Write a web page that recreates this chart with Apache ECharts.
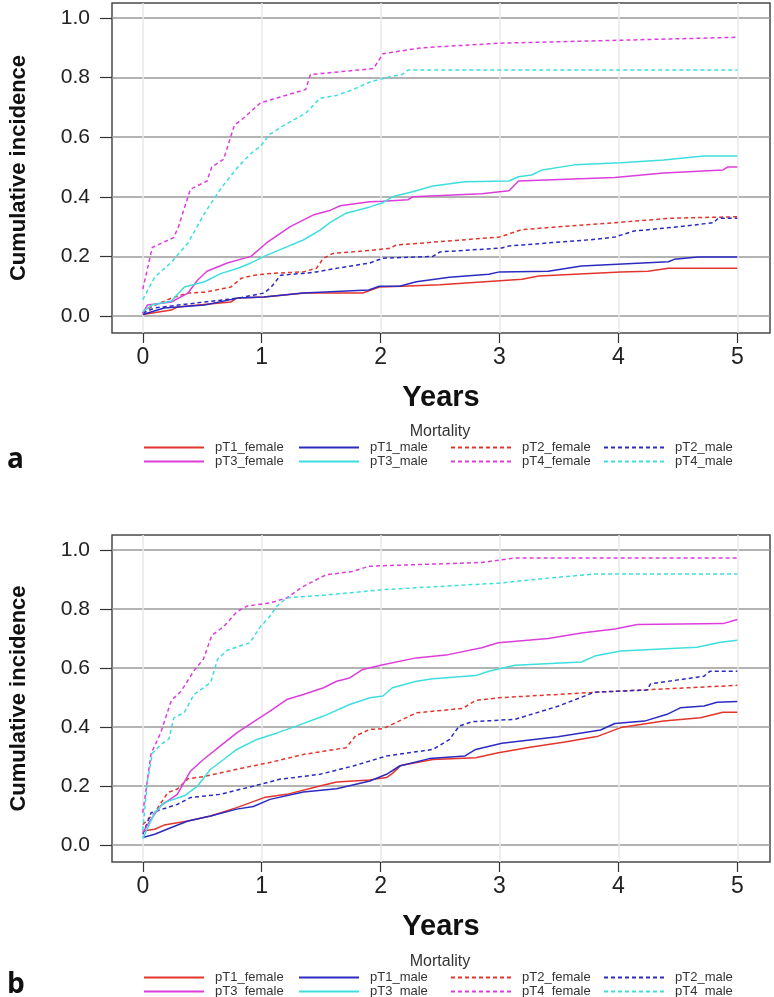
<!DOCTYPE html>
<html>
<head>
<meta charset="utf-8">
<script src="https://cdn.jsdelivr.net/npm/echarts@6/dist/echarts.min.js"></script>
<style>
  html, body { margin: 0; padding: 0; background: #fff; }
  #chart { width: 774px; height: 997px; }
</style>
</head>
<body>
<div id="chart"></div>
<script>
// tick values
const xTicks = [0, 1, 2, 3, 4, 5];
const yTicks = [0, 0.2, 0.4, 0.6, 0.8, 1.0];
const seriesNames = ["pT1_female", "pT1_male", "pT2_female", "pT2_male",
                     "pT3_female", "pT3_male", "pT4_female", "pT4_male"];

// panel a  [years, cumulative incidence]
const aPT1F = [[0,0.005],[0.24,0.02],[0.29,0.03],[0.74,0.047],[0.79,0.06],[1.02,0.064],[1.36,0.077],[1.85,0.077],[1.99,0.097],[2.18,0.1],[2.5,0.105],[3.19,0.123],[3.33,0.134],[4.02,0.148],[4.25,0.15],[4.42,0.16],[5,0.16]];
const aPT1M = [[0,0.005],[0.18,0.027],[0.52,0.037],[0.8,0.06],[1.02,0.064],[1.35,0.077],[1.9,0.087],[1.99,0.1],[2.16,0.1],[2.3,0.115],[2.58,0.13],[2.91,0.14],[3.0,0.148],[3.41,0.15],[3.69,0.168],[4.42,0.182],[4.47,0.19],[4.67,0.198],[5,0.198]];
const aPT2F = [[0,0.01],[0.07,0.03],[0.24,0.06],[0.38,0.077],[0.52,0.08],[0.74,0.097],[0.83,0.127],[0.94,0.137],[1.08,0.143],[1.35,0.148],[1.46,0.16],[1.52,0.194],[1.6,0.21],[1.91,0.22],[2.08,0.227],[2.13,0.238],[3.0,0.265],[3.19,0.29],[3.97,0.313],[4.44,0.328],[5,0.333]];
const aPT2M = [[0,0.01],[0.1,0.027],[0.52,0.047],[0.8,0.06],[1.02,0.077],[1.08,0.097],[1.16,0.137],[1.35,0.143],[1.46,0.148],[1.63,0.16],[1.91,0.178],[2.02,0.194],[2.44,0.2],[2.5,0.215],[3.02,0.228],[3.08,0.235],[3.83,0.258],[3.97,0.265],[4.13,0.285],[4.52,0.3],[4.8,0.313],[4.84,0.328],[5,0.328]];
const aPT3F = [[0,0.01],[0.04,0.037],[0.24,0.047],[0.38,0.077],[0.46,0.12],[0.54,0.15],[0.71,0.178],[0.91,0.2],[1.04,0.245],[1.24,0.3],[1.44,0.34],[1.58,0.355],[1.66,0.37],[1.91,0.383],[2.02,0.385],[2.23,0.39],[2.27,0.4],[2.85,0.41],[3.08,0.42],[3.16,0.453],[3.97,0.465],[4.38,0.48],[4.88,0.49],[4.92,0.5],[5,0.5]];
const aPT3M = [[0,0.015],[0.08,0.037],[0.24,0.05],[0.35,0.097],[0.52,0.115],[0.66,0.143],[0.8,0.16],[0.91,0.178],[1.02,0.2],[1.21,0.232],[1.35,0.255],[1.49,0.288],[1.58,0.315],[1.71,0.345],[1.91,0.366],[2.02,0.38],[2.1,0.4],[2.27,0.417],[2.44,0.436],[2.71,0.45],[3.08,0.453],[3.16,0.467],[3.27,0.473],[3.36,0.49],[3.63,0.507],[4.02,0.514],[4.38,0.523],[4.72,0.537],[5,0.537]];
const aPT4F = [[0,0.09],[0.08,0.23],[0.26,0.263],[0.3,0.3],[0.4,0.425],[0.54,0.453],[0.58,0.5],[0.68,0.526],[0.77,0.64],[0.85,0.665],[0.99,0.715],[1.37,0.76],[1.41,0.81],[1.94,0.83],[2.02,0.88],[2.35,0.9],[3.0,0.915],[4.0,0.925],[5,0.935]];
const aPT4M = [[0,0.055],[0.1,0.13],[0.24,0.18],[0.38,0.245],[0.52,0.345],[0.66,0.43],[0.8,0.5],[0.91,0.545],[0.99,0.57],[1.07,0.61],[1.21,0.645],[1.37,0.68],[1.49,0.73],[1.63,0.74],[1.77,0.76],[1.91,0.785],[2.05,0.8],[2.18,0.81],[2.23,0.825],[5,0.825]];

// panel b
const bPT1F = [[0,0.048],[0.1,0.054],[0.18,0.068],[0.38,0.082],[0.57,0.099],[0.79,0.127],[1.02,0.161],[1.21,0.172],[1.49,0.2],[1.63,0.214],[1.91,0.221],[2.05,0.229],[2.1,0.243],[2.17,0.27],[2.44,0.29],[2.8,0.296],[2.99,0.313],[3.27,0.332],[3.55,0.349],[3.83,0.369],[4.02,0.398],[4.38,0.42],[4.69,0.431],[4.88,0.45],[5,0.45]];
const bPT1M = [[0,0.026],[0.1,0.037],[0.24,0.06],[0.38,0.082],[0.57,0.099],[0.79,0.122],[0.93,0.131],[1.07,0.155],[1.35,0.18],[1.63,0.191],[1.91,0.217],[2.05,0.24],[2.16,0.268],[2.41,0.293],[2.71,0.302],[2.8,0.324],[3.02,0.345],[3.49,0.367],[3.85,0.39],[3.97,0.412],[4.22,0.42],[4.41,0.443],[4.52,0.465],[4.72,0.471],[4.83,0.484],[5,0.486]];
const bPT2F = [[0,0.07],[0.1,0.11],[0.21,0.178],[0.29,0.19],[0.38,0.225],[0.51,0.232],[0.79,0.257],[1.07,0.28],[1.35,0.307],[1.71,0.33],[1.79,0.37],[1.91,0.392],[2.02,0.394],[2.3,0.448],[2.69,0.463],[2.8,0.49],[2.99,0.499],[3.83,0.518],[5,0.541]];
const bPT2M = [[0,0.037],[0.07,0.11],[0.15,0.12],[0.29,0.138],[0.4,0.161],[0.65,0.172],[0.93,0.2],[1.15,0.223],[1.49,0.24],[1.77,0.268],[2.05,0.302],[2.44,0.324],[2.58,0.358],[2.66,0.403],[2.77,0.418],[3.13,0.426],[3.49,0.47],[3.8,0.518],[4.24,0.525],[4.27,0.546],[4.72,0.572],[4.77,0.589],[5,0.589]];
const bPT3F = [[0,0.043],[0.07,0.088],[0.15,0.133],[0.29,0.172],[0.4,0.25],[0.51,0.29],[0.65,0.335],[0.79,0.38],[0.96,0.425],[1.07,0.454],[1.21,0.493],[1.35,0.51],[1.52,0.533],[1.63,0.555],[1.74,0.566],[1.85,0.595],[2.02,0.611],[2.3,0.634],[2.57,0.645],[2.85,0.668],[2.99,0.685],[3.41,0.7],[3.69,0.718],[3.97,0.732],[4.16,0.747],[4.88,0.75],[5,0.764]];
const bPT3M = [[0,0.022],[0.1,0.11],[0.18,0.144],[0.35,0.167],[0.46,0.2],[0.57,0.257],[0.68,0.29],[0.79,0.324],[0.96,0.358],[1.13,0.38],[1.29,0.403],[1.52,0.437],[1.74,0.476],[1.91,0.499],[2.02,0.505],[2.1,0.533],[2.3,0.555],[2.44,0.563],[2.8,0.574],[2.91,0.589],[3.13,0.609],[3.69,0.62],[3.8,0.64],[4.02,0.657],[4.66,0.67],[4.86,0.687],[5,0.694]];
const bPT4F = [[0,0.11],[0.07,0.31],[0.15,0.38],[0.24,0.49],[0.32,0.52],[0.43,0.59],[0.51,0.63],[0.58,0.71],[0.68,0.74],[0.79,0.79],[0.88,0.81],[1.07,0.82],[1.21,0.837],[1.35,0.876],[1.54,0.915],[1.77,0.927],[1.9,0.944],[2.02,0.946],[2.85,0.957],[3.13,0.972],[5,0.972]];
const bPT4M = [[0,0.05],[0.04,0.22],[0.08,0.31],[0.15,0.34],[0.22,0.36],[0.26,0.43],[0.35,0.45],[0.43,0.51],[0.57,0.55],[0.63,0.63],[0.71,0.66],[0.9,0.685],[0.99,0.74],[1.07,0.775],[1.13,0.81],[1.21,0.837],[1.63,0.85],[2.02,0.865],[2.99,0.887],[3.41,0.904],[3.8,0.918],[5,0.918]];

const panelA = [aPT1F, aPT1M, aPT2F, aPT2M, aPT3F, aPT3M, aPT4F, aPT4M];
const panelB = [bPT1F, bPT1M, bPT2F, bPT2M, bPT3F, bPT3M, bPT4F, bPT4M];

const colors = ["#e2352c", "#2b2bc2", "#e2352c", "#2b2bc2", "#dc3edc", "#3fdede", "#dc3edc", "#3fdede"];
const dashed = [false, false, true, true, false, false, true, true];

const sans = "'Liberation Sans', Arial, sans-serif";

const chart = echarts.init(document.getElementById("chart"));

// plot frames
const boxes = [
  { left: 107, top: 3, width: 663, height: 330 },
  { left: 107, top: 535, width: 663, height: 327 },
];

function makeX(i) {
  return {
    type: "value", gridIndex: i, min: -0.259, max: 5.275,
    name: "Years", nameLocation: "middle", nameGap: 50,
    nameTextStyle: { fontFamily: sans, fontWeight: "bold", fontSize: 29, color: "#111" },
    axisLine: { show: false, onZero: false },
    axisTick: { show: true, customValues: xTicks, length: 10, lineStyle: { color: "#333", width: 1.2 } },
    axisLabel: { customValues: xTicks, fontFamily: sans, fontSize: 23, color: "#222", margin: 13 },
    splitLine: { show: true, lineStyle: { color: "#e8e8e8", width: 1.5 } },
  };
}
function makeY(i) {
  return {
    type: "value", gridIndex: i, min: -0.057, max: 1.05,
    name: "Cumulative incidence", nameLocation: "middle", nameGap: 82,
    nameTextStyle: { fontFamily: sans, fontWeight: "bold", fontSize: 22, color: "#111" },
    axisLine: { show: false, onZero: false },
    axisTick: { show: true, customValues: yTicks, length: 12, lineStyle: { color: "#333", width: 1.2 } },
    axisLabel: { customValues: yTicks, fontFamily: sans, fontSize: 21, color: "#222", margin: 22,
                 formatter: (v) => v.toFixed(1) },
    splitLine: { show: true, lineStyle: { color: "#9a9a9a", width: 1.5 } },
  };
}

const series = [];
[panelA, panelB].forEach((panel, p) => {
  panel.forEach((data, k) => {
    series.push({
      name: seriesNames[k],
      type: "line",
      xAxisIndex: p, yAxisIndex: p,
      data: data,
      showSymbol: false, symbol: "none",
      color: colors[k],
      lineStyle: { color: colors[k], width: 1.5, type: dashed[k] ? [4, 3] : "solid" },
      z: 3,
    });
  });
});

// legends: 4 columns x 2 rows per panel
const colLeft = [143, 298, 450, 603];
const legendTop = [441, 971];
const legends = [];
legendTop.forEach((top) => {
  colLeft.forEach((left, c) => {
    legends.push({
      left: left, top: top, height: 40, orient: "vertical", padding: 0,
      itemWidth: 60, itemHeight: 13, itemGap: 1,
      selectedMode: false,
      itemStyle: { color: "rgba(0,0,0,0)", borderWidth: 0 },
      data: [seriesNames[c], seriesNames[c + 4]],
      textStyle: { fontFamily: sans, fontSize: 13, lineHeight: 13, color: "#333", padding: [0, 0, 0, 6] },
    });
  });
});

chart.setOption({
  animation: false,
  backgroundColor: "#fff",
  title: [
    { text: "Mortality", left: 440, top: 424, textAlign: "center", padding: 0,
      textStyle: { fontFamily: sans, fontWeight: "normal", fontSize: 16, color: "#333" } },
    { text: "Mortality", left: 440, top: 954, textAlign: "center", padding: 0,
      textStyle: { fontFamily: sans, fontWeight: "normal", fontSize: 16, color: "#333" } },
    { text: "a", left: 7, top: 446, padding: 0,
      textStyle: { fontFamily: "'Open Sans', sans-serif", fontWeight: "bold", fontSize: 28, color: "#111" } },
    { text: "b", left: 7, top: 971, padding: 0,
      textStyle: { fontFamily: "'Open Sans', sans-serif", fontWeight: "bold", fontSize: 28, color: "#111" } },
  ],
  legend: legends,
  grid: boxes.map((b) => Object.assign({ show: true, borderColor: "#4a4a4a", borderWidth: 1.5,
                                        backgroundColor: "transparent" }, b)),
  xAxis: [makeX(0), makeX(1)],
  yAxis: [makeY(0), makeY(1)],
  series: series,
});
</script>
</body>
</html>
